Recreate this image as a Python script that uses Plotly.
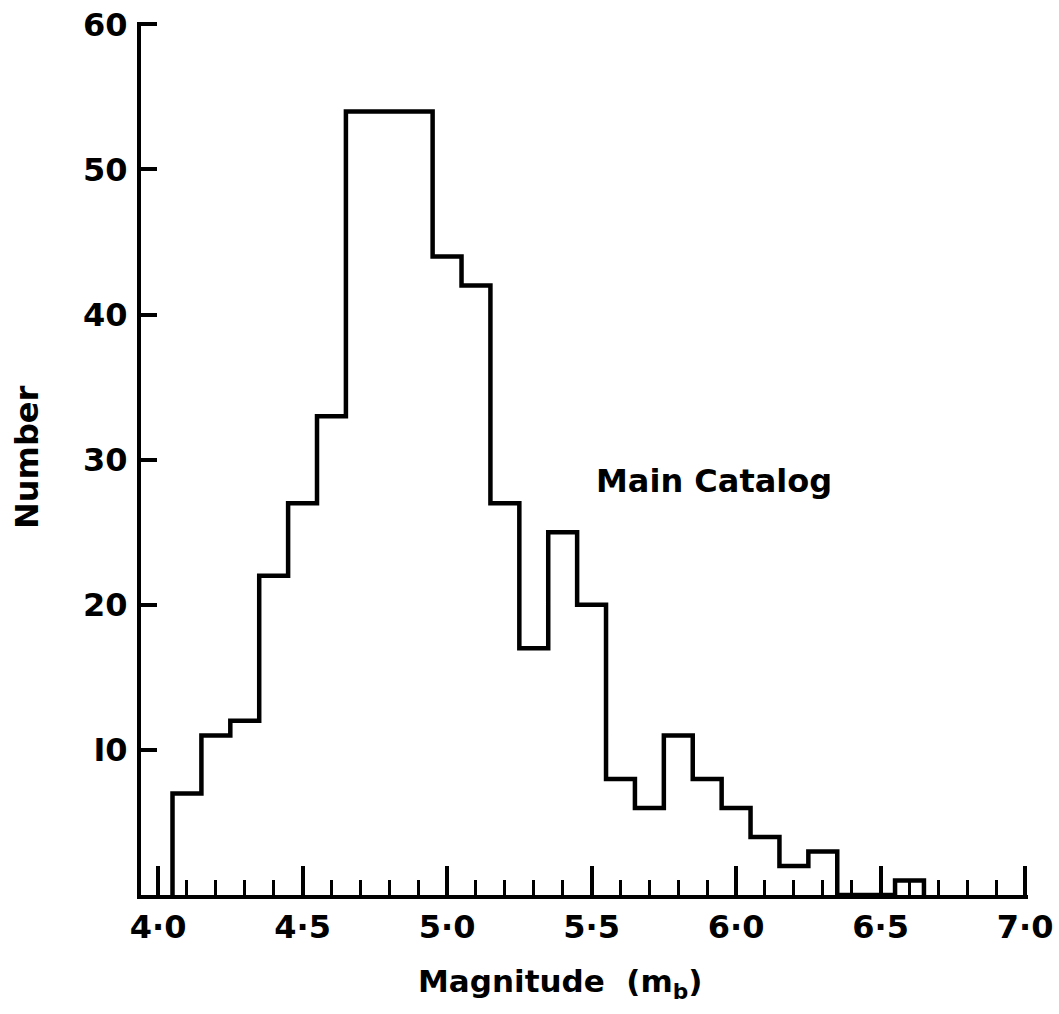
import plotly.graph_objects as go

# Data
bin_centers = [4.1, 4.2, 4.3, 4.4, 4.5, 4.6, 4.7, 4.8, 4.9, 5.0, 5.1, 5.2, 5.3, 5.4,
               5.5, 5.6, 5.7, 5.8, 5.9, 6.0, 6.1, 6.2, 6.3, 6.4, 6.5, 6.6]
counts = [7, 11, 12, 22, 27, 33, 54, 54, 54, 44, 42, 27, 17, 25,
          20, 8, 6, 11, 8, 6, 4, 2, 3, 0, 0, 1]
bin_width = 0.1

x_tickvals = [4.0, 4.5, 5.0, 5.5, 6.0, 6.5, 7.0]
x_ticktext = ["4·0", "4·5", "5·0", "5·5", "6·0", "6·5", "7·0"]
y_tickvals = [10, 20, 30, 40, 50, 60]
y_ticktext = ["I0", "20", "30", "40", "50", "60"]

# Step outline built from bins
xs = [bin_centers[0] - bin_width / 2]
ys = [0]
for c, n in zip(bin_centers, counts):
    xs.append(c - bin_width / 2)
    ys.append(n)
xs.append(bin_centers[-1] + bin_width / 2)
ys.append(counts[-1])
xs.append(bin_centers[-1] + bin_width / 2)
ys.append(0)

FONT = "DejaVu Sans"
TXT = dict(family=FONT, size=32, color="black", weight="bold")

fig = go.Figure()
fig.add_trace(go.Scatter(x=xs, y=ys, mode="lines", line=dict(shape="hv", color="black", width=4.5),
                         hoverinfo="skip", showlegend=False))

fig.update_layout(
    width=1059, height=1014,
    margin=dict(l=141, r=31, t=22, b=119),
    paper_bgcolor="white", plot_bgcolor="white",
    font=TXT,
    showlegend=False,
    xaxis=dict(
        range=[3.941, 7.01], showgrid=False, zeroline=False, automargin=False,
        showline=True, linecolor="black", linewidth=4,
        tickmode="array", tickvals=x_tickvals, ticktext=x_ticktext,
        ticks="inside", ticklen=29, tickwidth=3.5, tickcolor="black",
        ticklabelstandoff=1,
        tickfont=TXT,
        minor=dict(dtick=0.1, tick0=4.0, ticks="inside", ticklen=15, tickwidth=3,
                   tickcolor="black", showgrid=False),
    ),
    yaxis=dict(
        range=[0, 60.16], showgrid=False, zeroline=False, automargin=False,
        showline=True, linecolor="black", linewidth=4,
        tickmode="array", tickvals=y_tickvals, ticktext=y_ticktext,
        ticks="inside", ticklen=16, tickwidth=3.5, tickcolor="black",
        ticklabelstandoff=3,
        tickfont=TXT,
    ),
    annotations=[
        dict(text="Number", xref="paper", yref="paper", x=0, y=0.5017, xshift=-114,
             xanchor="center", yanchor="middle", textangle=-90, showarrow=False,
             font=TXT),
        dict(text="Magnitude  (m<sub>b</sub>)", xref="paper", yref="paper", x=0.4734, y=0,
             yshift=-88, xanchor="center", yanchor="middle", showarrow=False,
             font=dict(family=FONT, size=31, color="black", weight="bold")),
        dict(text="Main Catalog", xref="x", yref="y", x=5.925, y=28.5,
             xanchor="center", yanchor="middle", showarrow=False,
             font=TXT),
    ],
)

fig.write_html("out.html")
